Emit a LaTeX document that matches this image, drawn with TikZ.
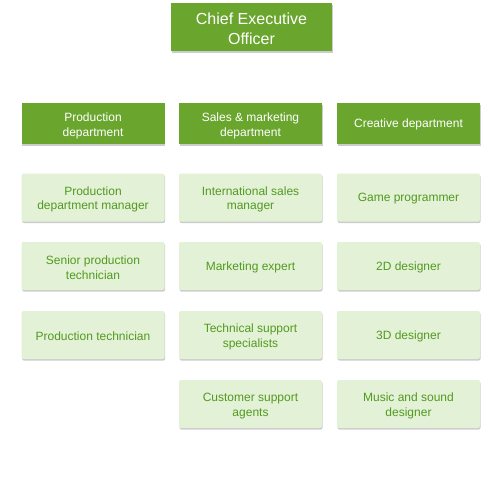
\documentclass[tikz,border=0pt]{standalone}
\usepackage{fontspec}
\setmainfont{Liberation Sans}
\usetikzlibrary{shadows}
\definecolor{darkg}{HTML}{6AA62E}
\definecolor{lightg}{HTML}{E3F1D6}
\definecolor{textg}{HTML}{529A20}
\newcommand{\strutA}{\rule{0pt}{12.5pt}}
\newcommand{\strutB}{\rule{0pt}{15.5pt}}
\newcommand{\strutC}{\rule{0pt}{11pt}}
\tikzset{
  x=1pt, y=-1pt,
  shad/.style={drop shadow={shadow xshift=0.6pt, shadow yshift=-1.6pt, fill=black, opacity=0.2}},
  ceobox/.style={shad, fill=darkg, text=white, minimum width=161pt, minimum height=48pt, inner sep=0pt, align=center, font=\fontsize{16}{20}\selectfont},
  deptbox/.style={shad, fill=darkg, text=white, minimum width=143pt, minimum height=41pt, inner sep=0pt, align=center, font=\fontsize{12}{15}\selectfont},
  rolebox/.style={shad, rounded corners=2pt, fill=lightg, text=textg, minimum width=143pt, minimum height=48pt, inner sep=0pt, align=center, font=\fontsize{12}{14.5}\selectfont},
}
\begin{document}
\begin{tikzpicture}
\useasboundingbox (0,0) rectangle (500,500);
\node[ceobox] (ceo) at (251.5,27) {\strutB Chief Executive\\Officer};
\node[deptbox] (prod) at (93,123.5) {\strutA Production\\department};
\node[deptbox] (sales) at (250.5,123.5) {\strutA Sales \& marketing\\department};
\node[deptbox] (crea) at (408.5,123.5) {\strutC Creative department};
\node[rolebox] (p1) at (93,197.5) {\strutA Production\\department manager};
\node[rolebox] (p2) at (93,266) {\strutA Senior production\\technician};
\node[rolebox] (p3) at (93,335) {\strutC Production technician};
\node[rolebox] (s1) at (250.5,197.5) {\strutA International sales\\manager};
\node[rolebox] (s2) at (250.5,266) {\strutC Marketing expert};
\node[rolebox] (s3) at (250.5,335) {\strutA Technical support\\specialists};
\node[rolebox] (s4) at (250.5,404) {\strutA Customer support\\agents};
\node[rolebox] (c1) at (408.5,197.5) {\strutC Game programmer};
\node[rolebox] (c2) at (408.5,266) {\strutC 2D designer};
\node[rolebox] (c3) at (408.5,335) {\strutC 3D designer};
\node[rolebox] (c4) at (408.5,404) {\strutA Music and sound\\designer};
\end{tikzpicture}
\end{document}
